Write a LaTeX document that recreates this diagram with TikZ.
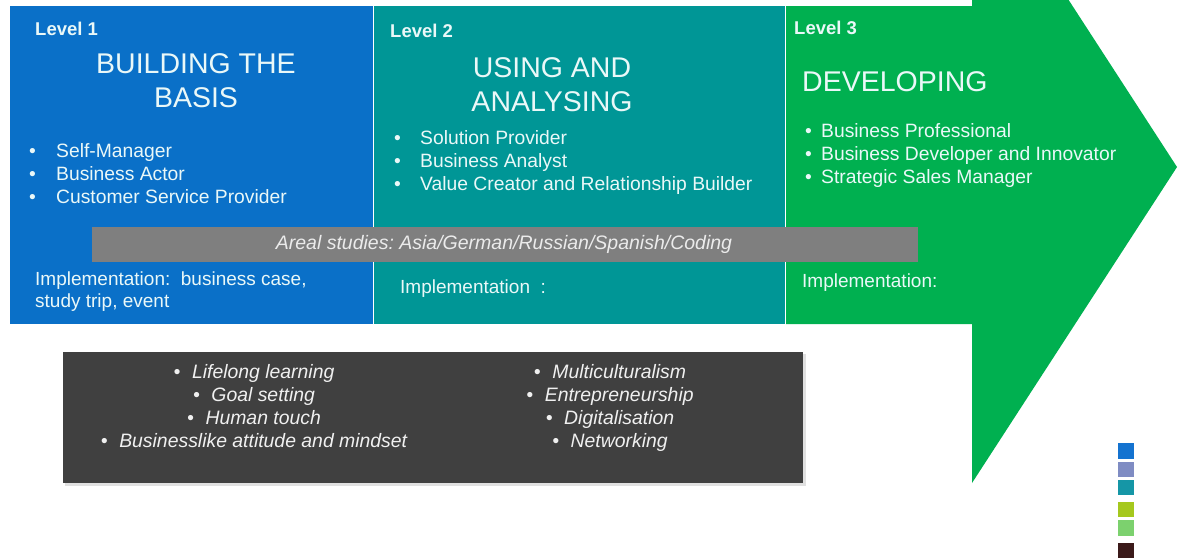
\documentclass[tikz,border=0pt]{standalone}
\usepackage{fontspec}
\setmainfont{Liberation Sans}
\frenchspacing

\definecolor{lvlblue}{HTML}{0A70C8}
\definecolor{lvlteal}{HTML}{009696}
\definecolor{lvlgreen}{HTML}{00B050}
\definecolor{bandgrey}{HTML}{7F7F7F}
\definecolor{darkbox}{HTML}{404040}
\definecolor{boxtext}{HTML}{EAF8F8}
\definecolor{sqblue}{HTML}{1473D0}
\definecolor{sqlav}{HTML}{7F8CC3}
\definecolor{sqteal}{HTML}{1596A6}
\definecolor{sqlime}{HTML}{A5C81E}
\definecolor{sqgreen}{HTML}{7CD16E}
\definecolor{sqdark}{HTML}{3B1A1A}

\tikzset{
  lvllabel/.style={anchor=base west, inner sep=0pt, text=boxtext,
    font=\bfseries\fontsize{18.5}{20}\selectfont},
  lvltitle/.style={align=center, inner sep=0pt, text=boxtext,
    font=\fontsize{28.5}{34}\selectfont},
  roles/.style={anchor=north west, align=left, inner sep=0pt, text=boxtext,
    font=\fontsize{19.3}{23}\selectfont},
  impl/.style={anchor=west, align=left, inner sep=0pt, text=boxtext,
    font=\fontsize{19}{22}\selectfont},
  skills/.style={anchor=north, align=center, inner sep=0pt, text=white!94!black,
    font=\itshape\fontsize{19.4}{23}\selectfont},
}

\begin{document}
\begin{tikzpicture}[x=1pt, y=-1pt]

    \useasboundingbox (0, 0) rectangle (1182, 558);

    % level boxes
    \fill[lvlblue] (10, 6) rectangle (373, 324);
    \fill[lvlteal] (374, 6) rectangle (785, 324);
    \begin{scope}
        \clip (0, 0) rectangle (1182, 558);
        \fill[lvlgreen] (786, 6) -- (972, 6) -- (972, -149) -- (1177, 167)
            -- (972, 483) -- (972, 324) -- (786, 324) -- cycle;
    \end{scope}

    \node[lvllabel] (lvlone) at (35, 35) {Level 1};
    \node[lvltitle] (titleone) at (196, 81) {BUILDING THE\\BASIS};
    \node[roles] (rolesone) at (29, 143)
        {\makebox[27pt][l]{•}Self-Manager\\
         \makebox[27pt][l]{•}Business Actor\\
         \makebox[27pt][l]{•}Customer Service Provider};
    \node[impl] (implone) at (35, 292)
        {Implementation:\ \ business case,\\study trip, event};

    \node[lvllabel] (lvltwo) at (390, 37) {Level 2};
    \node[lvltitle] (titletwo) at (552, 85) {USING AND\\ANALYSING};
    \node[roles] (rolestwo) at (394, 130)
        {\makebox[26pt][l]{•}Solution Provider\\
         \makebox[26pt][l]{•}Business Analyst\\
         \makebox[26pt][l]{•}Value Creator and Relationship Builder};
    \node[impl] (impltwo) at (400, 289) {Implementation\ \ :};

    \node[lvllabel] (lvlthree) at (794, 34) {Level 3};
    \node[lvltitle, anchor=west] (titlethree) at (802, 82) {DEVELOPING};
    \node[roles] (rolesthree) at (805, 123)
        {\makebox[16pt][l]{•}Business Professional\\
         \makebox[16pt][l]{•}Business Developer and Innovator\\
         \makebox[16pt][l]{•}Strategic Sales Manager};
    \node[impl] (implthree) at (802, 283) {Implementation:};

    % areal studies band
    \fill[bandgrey] (92, 227) rectangle (918, 262);
    \node[text=white!92!black, font=\itshape\fontsize{19.5}{22}\selectfont]
        (areal) at (504, 244) {Areal studies: Asia/German/Russian/Spanish/Coding};

    % skills box
    \fill[black!12] (65, 354) rectangle (806, 486);
    \fill[darkbox] (63, 352) rectangle (803, 483);
    \node[skills] (skillsleft) at (254, 364)
        {•\hspace{0.6em}Lifelong learning\\
         •\hspace{0.6em}Goal setting\\
         •\hspace{0.6em}Human touch\\
         •\hspace{0.6em}Businesslike attitude and mindset};
    \node[skills] (skillsright) at (610, 364)
        {•\hspace{0.6em}Multiculturalism\\
         •\hspace{0.6em}Entrepreneurship\\
         •\hspace{0.6em}Digitalisation\\
         •\hspace{0.6em}Networking};

    % colour squares
    \fill[sqblue] (1118, 443) rectangle (1134, 459);
    \fill[sqlav] (1118, 462) rectangle (1134, 477);
    \fill[sqteal] (1118, 480) rectangle (1134, 495);
    \fill[sqlime] (1118, 502) rectangle (1134, 517);
    \fill[sqgreen] (1118, 520) rectangle (1134, 536);
    \fill[sqdark] (1118, 543) rectangle (1134, 558);

\end{tikzpicture}
\end{document}
